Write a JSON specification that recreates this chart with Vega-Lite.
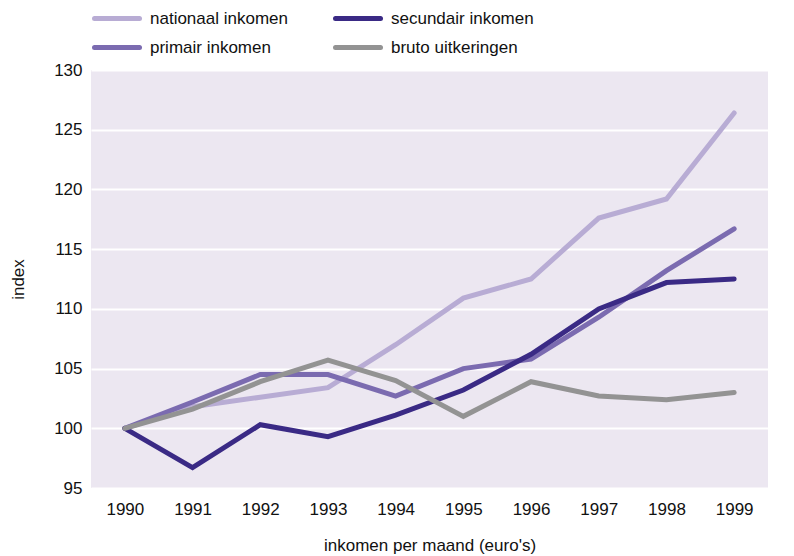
{
  "$schema": "https://vega.github.io/schema/vega-lite/v6.json",
  "width": 677,
  "height": 418,
  "autosize": {"type": "none"},
  "padding": {"left": 91, "top": 70, "right": 26, "bottom": 68},
  "background": "white",
  "config": {
    "font": "Liberation Sans",
    "view": {"fill": "#ece7f1", "stroke": null},
    "axis": {"labelFont": "Liberation Sans", "titleFont": "Liberation Sans", "labelColor": "#111", "titleColor": "#111", "titleFontWeight": "normal"}
  },
  "data": {
    "values": [
      {"jaar": "1990", "reeks": "nationaal inkomen", "index": 100},
      {"jaar": "1991", "reeks": "nationaal inkomen", "index": 101.8},
      {"jaar": "1992", "reeks": "nationaal inkomen", "index": 102.6},
      {"jaar": "1993", "reeks": "nationaal inkomen", "index": 103.4},
      {"jaar": "1994", "reeks": "nationaal inkomen", "index": 107.0},
      {"jaar": "1995", "reeks": "nationaal inkomen", "index": 110.9},
      {"jaar": "1996", "reeks": "nationaal inkomen", "index": 112.5},
      {"jaar": "1997", "reeks": "nationaal inkomen", "index": 117.6},
      {"jaar": "1998", "reeks": "nationaal inkomen", "index": 119.2},
      {"jaar": "1999", "reeks": "nationaal inkomen", "index": 126.4},
      {"jaar": "1990", "reeks": "primair inkomen", "index": 100},
      {"jaar": "1991", "reeks": "primair inkomen", "index": 102.2},
      {"jaar": "1992", "reeks": "primair inkomen", "index": 104.5},
      {"jaar": "1993", "reeks": "primair inkomen", "index": 104.5},
      {"jaar": "1994", "reeks": "primair inkomen", "index": 102.7},
      {"jaar": "1995", "reeks": "primair inkomen", "index": 105.0},
      {"jaar": "1996", "reeks": "primair inkomen", "index": 105.8},
      {"jaar": "1997", "reeks": "primair inkomen", "index": 109.3},
      {"jaar": "1998", "reeks": "primair inkomen", "index": 113.2},
      {"jaar": "1999", "reeks": "primair inkomen", "index": 116.7},
      {"jaar": "1990", "reeks": "secundair inkomen", "index": 100},
      {"jaar": "1991", "reeks": "secundair inkomen", "index": 96.7},
      {"jaar": "1992", "reeks": "secundair inkomen", "index": 100.3},
      {"jaar": "1993", "reeks": "secundair inkomen", "index": 99.3},
      {"jaar": "1994", "reeks": "secundair inkomen", "index": 101.1},
      {"jaar": "1995", "reeks": "secundair inkomen", "index": 103.2},
      {"jaar": "1996", "reeks": "secundair inkomen", "index": 106.2},
      {"jaar": "1997", "reeks": "secundair inkomen", "index": 110.0},
      {"jaar": "1998", "reeks": "secundair inkomen", "index": 112.2},
      {"jaar": "1999", "reeks": "secundair inkomen", "index": 112.5},
      {"jaar": "1990", "reeks": "bruto uitkeringen", "index": 100},
      {"jaar": "1991", "reeks": "bruto uitkeringen", "index": 101.6},
      {"jaar": "1992", "reeks": "bruto uitkeringen", "index": 103.9},
      {"jaar": "1993", "reeks": "bruto uitkeringen", "index": 105.7},
      {"jaar": "1994", "reeks": "bruto uitkeringen", "index": 104.0},
      {"jaar": "1995", "reeks": "bruto uitkeringen", "index": 101.0},
      {"jaar": "1996", "reeks": "bruto uitkeringen", "index": 103.9},
      {"jaar": "1997", "reeks": "bruto uitkeringen", "index": 102.7},
      {"jaar": "1998", "reeks": "bruto uitkeringen", "index": 102.4},
      {"jaar": "1999", "reeks": "bruto uitkeringen", "index": 103.0}
    ]
  },
  "mark": {"type": "line", "strokeWidth": 5, "strokeJoin": "miter", "strokeCap": "round"},
  "encoding": {
    "x": {
      "field": "jaar", "type": "ordinal",
      "scale": {"type": "point", "padding": 0.5},
      "axis": {"title": "inkomen per maand (euro's)", "labelAngle": 0, "labelFontSize": 17, "titleFontSize": 17, "ticks": false, "domain": false, "grid": false, "labelPadding": 13, "titlePadding": 20}
    },
    "y": {
      "field": "index", "type": "quantitative",
      "scale": {"domain": [95, 130], "nice": false, "zero": false},
      "axis": {"title": "index", "values": [95, 100, 105, 110, 115, 120, 125, 130], "labelFontSize": 17, "titleFontSize": 17, "ticks": false, "domain": false, "grid": true, "gridColor": "white", "gridWidth": 2, "labelPadding": 9, "titlePadding": 26}
    },
    "color": {
      "field": "reeks", "type": "nominal",
      "scale": {
        "domain": ["nationaal inkomen", "secundair inkomen", "primair inkomen", "bruto uitkeringen"],
        "range": ["#b8acd4", "#3a2a85", "#7b6bb0", "#939393"]
      },
      "legend": {
        "title": null, "orient": "none", "legendX": 1, "legendY": -62, "padding": 0, "columns": 2, "direction": "horizontal",
        "symbolType": "stroke", "symbolSize": 2025, "symbolStrokeWidth": 5, "clipHeight": 21,
        "labelFontSize": 17, "labelFont": "Liberation Sans", "labelColor": "#111", "labelOffset": 8,
        "columnPadding": 45, "rowPadding": 8, "labelLimit": 300,
        "encode": {"symbols": {"update": {"strokeCap": {"value": "round"}}}}
      }
    }
  }
}
